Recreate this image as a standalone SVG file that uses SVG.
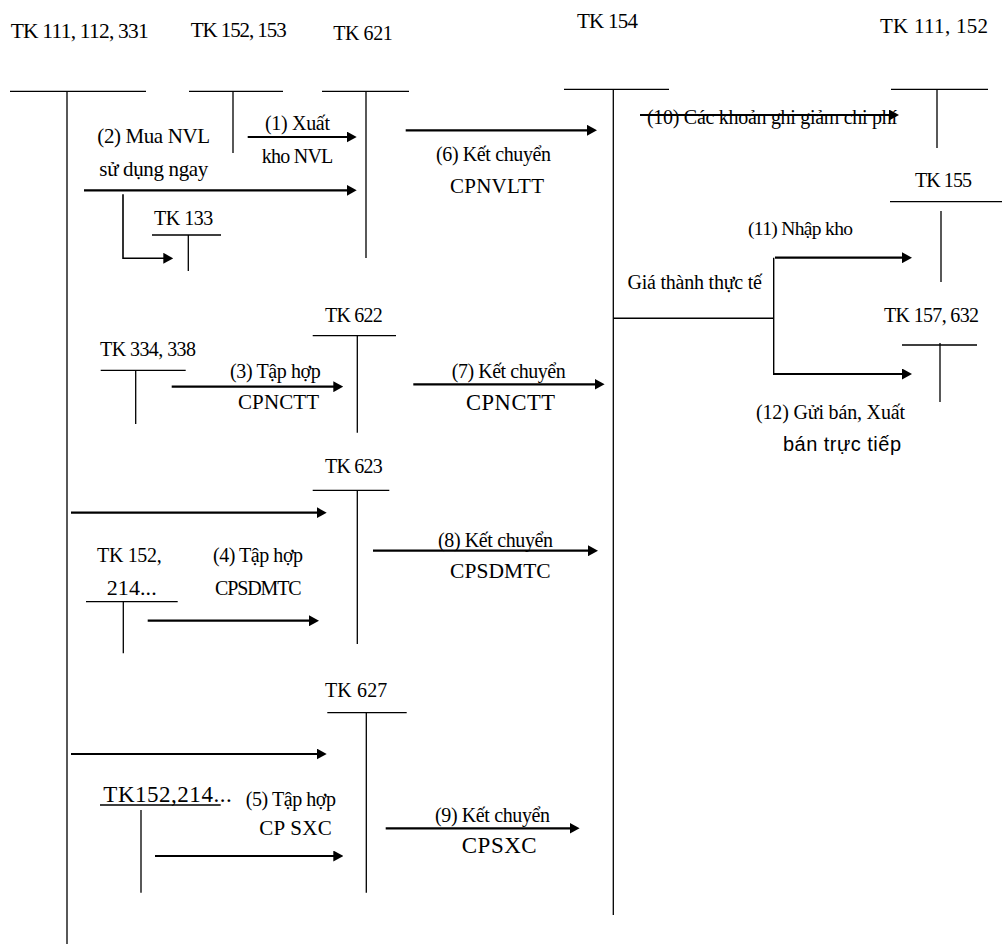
<svg xmlns="http://www.w3.org/2000/svg" width="1002" height="944" viewBox="0 0 1002 944">
  <defs>
    <style>
      .acct { stroke: #000; stroke-width: 1.3; fill: none; }
      .flow { stroke: #000; stroke-width: 2.2; fill: none; marker-end: url(#head); }
      .thin { stroke: #000; stroke-width: 1.4; fill: none; }
      .thinflow { stroke: #000; stroke-width: 1.6; fill: none; marker-end: url(#head); }
    </style>
    <!-- solid arrowhead; the path ends 8px before the tip -->
    <marker id="head" markerUnits="userSpaceOnUse" viewBox="0 0 10 11" refX="2" refY="5.5" markerWidth="10" markerHeight="11" orient="auto">
      <path d="M0,0 L10,5.5 L0,11 Z" fill="#000"/>
    </marker>
  </defs>

  <rect width="1002" height="944" fill="#fff"/>

  <g font-family="Liberation Serif, serif" font-size="20" fill="#000">
  <!-- T-accounts -->
  <g id="tk111-112-331">
    <text x="10.7" y="37.7" font-size="21.5" textLength="138">TK 111, 112, 331</text>
    <path class="acct" d="M10,91.3 H146 M67,91.3 V944"/>
  </g>
  <g id="tk152-153">
    <text x="190.7" y="36.7" font-size="21" textLength="96">TK 152, 153</text>
    <path class="acct" d="M189,91.3 H283 M233,91.3 V153"/>
  </g>
  <g id="tk621">
    <text x="333.3" y="40" textLength="59.4">TK 621</text>
    <path class="acct" d="M322,91.3 H409 M366,91.3 V258"/>
  </g>
  <g id="tk133">
    <text x="154" y="225" textLength="59.3">TK 133</text>
    <path class="acct" d="M152,235 H221 M188.3,235 V271"/>
  </g>
  <g id="tk154">
    <text x="577" y="28.3" font-size="21" textLength="61">TK 154</text>
    <path class="acct" d="M564,89.3 H669 M613.3,89.3 V915"/>
  </g>
  <g id="tk111-152">
    <text x="880" y="33" font-size="21" textLength="108">TK 111, 152</text>
    <path class="acct" d="M891,89.3 H988 M937,89.3 V148"/>
  </g>
  <g id="tk155">
    <text x="915" y="187" textLength="57">TK 155</text>
    <path class="acct" d="M890,201.7 H1002 M941,211 V282"/>
  </g>
  <g id="tk157-632">
    <text x="884" y="322" textLength="95">TK 157, 632</text>
    <path class="acct" d="M902,345 H977 M940,343 V402"/>
  </g>
  <g id="tk334-338">
    <text x="100" y="355.7" textLength="96">TK 334, 338</text>
    <path class="acct" d="M100.7,370.3 H185.7 M135.7,370.3 V424"/>
  </g>
  <g id="tk622">
    <text x="325" y="321.7" textLength="57.7">TK 622</text>
    <path class="acct" d="M312.7,335.7 H396 M357.3,335.7 V432.7"/>
  </g>
  <g id="tk623">
    <text x="325" y="473" textLength="57.7">TK 623</text>
    <path class="acct" d="M312.7,490.3 H389.3 M357.3,490.3 V644"/>
  </g>
  <g id="tk152-214-a">
    <text x="97" y="561.7" textLength="64.7">TK 152,</text>
    <text x="106.7" y="595" font-size="22" textLength="50">214...</text>
    <path class="acct" d="M86,601.7 H177.7 M123.3,601.7 V653.3"/>
  </g>
  <g id="tk627">
    <text x="325" y="696.7" textLength="62.3">TK 627</text>
    <path class="acct" d="M327.3,712.7 H406.7 M366.3,712.7 V892.7"/>
  </g>
  <g id="tk152-214-b">
    <text x="103.3" y="801.7" font-size="23" textLength="128.4">TK152,214...</text>
    <path class="acct" d="M100,805 H220.7 M141,810 V892.7"/>
  </g>

  <!-- connectors -->
  <g id="connectors">
    <path class="flow" d="M247.7,137 H348.7"/>
    <path class="flow" d="M84,190.3 H348.7"/>
    <path class="thinflow" d="M123,194.3 V258.3 H165.3"/>
    <path class="flow" d="M405.7,130.3 H589"/>
    <path class="flow" d="M640,115 H891"/>
    <path class="thin" d="M613.3,318.3 H773.7 M773.7,257.7 V374"/>
    <path class="flow" d="M775,257.7 H904"/>
    <path class="flow" d="M773,374 H904"/>
    <path class="flow" d="M171.7,386.7 H335.3"/>
    <path class="flow" d="M413.3,384.3 H596.6"/>
    <path class="flow" d="M71,512.7 H318.7"/>
    <path class="flow" d="M373,550.7 H590"/>
    <path class="flow" d="M147.7,620.7 H311"/>
    <path class="flow" d="M71,754 H318.7"/>
    <path class="flow" d="M155,856 H335.3"/>
    <path class="flow" d="M385.7,828.3 H571.6"/>
  </g>

  <!-- connector labels -->
  <g id="labels">
    <text x="265" y="130" textLength="65">(1) Xuất</text>
    <text x="261.7" y="163.3" textLength="71.6">kho NVL</text>
    <text x="97.3" y="142.7" font-size="21" textLength="112.7">(2) Mua NVL</text>
    <text x="99.3" y="175.7" font-size="21" textLength="109">sử dụng ngay</text>
    <text x="436" y="161" textLength="115">(6) Kết chuyển</text>
    <text x="450" y="193" font-size="21" textLength="94">CPNVLTT</text>
    <text x="647" y="123.5" textLength="250">(10) Các khoản ghi giảm chi phí</text>
    <text x="748" y="235" font-size="19.5" textLength="105">(11) Nhập kho</text>
    <text x="627.5" y="289" textLength="134.5">Giá thành thực tế</text>
    <text x="756" y="419" textLength="149">(12) Gửi bán, Xuất</text>
    <text x="783" y="451" font-family="Liberation Sans, Arial, sans-serif" textLength="118">bán trực tiếp</text>
    <text x="230" y="378" textLength="90.7">(3) Tập hợp</text>
    <text x="238" y="409" font-size="21" textLength="81">CPNCTT</text>
    <text x="451.7" y="378" textLength="114">(7) Kết chuyển</text>
    <text x="466" y="410" font-size="22.5" textLength="89">CPNCTT</text>
    <text x="213" y="561.7" textLength="90">(4) Tập hợp</text>
    <text x="215" y="595" textLength="86.7">CPSDMTC</text>
    <text x="438" y="546.5" textLength="115">(8) Kết chuyển</text>
    <text x="450" y="578" font-size="21.5" textLength="100.7">CPSDMTC</text>
    <text x="245.7" y="806" textLength="90.3">(5) Tập hợp</text>
    <text x="259.3" y="835" font-size="21" textLength="72.4">CP SXC</text>
    <text x="435" y="821.7" textLength="115">(9) Kết chuyển</text>
    <text x="461.7" y="853.3" font-size="23" textLength="75">CPSXC</text>
  </g>
  </g>
</svg>
